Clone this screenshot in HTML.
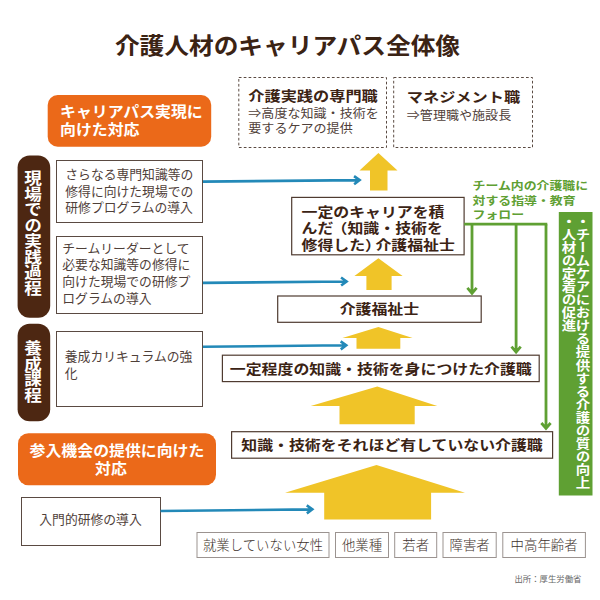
<!DOCTYPE html>
<html lang="ja">
<head>
<meta charset="utf-8">
<title>介護人材のキャリアパス全体像</title>
<style>
html,body{margin:0;padding:0;background:#fff;}
body{width:600px;height:600px;position:relative;overflow:hidden;
  font-family:"Liberation Sans","Noto Sans CJK JP",sans-serif;color:#3b2314;}
svg{position:absolute;left:0;top:0;}
.t{position:absolute;white-space:nowrap;}
.title{left:0;width:575px;text-align:center;top:29.500px;font-size:24.7px;font-weight:700;line-height:36px;color:#3b2314;transform:scaleY(0.92);transform-origin:0 0;}
.or{color:#fff;font-weight:700;font-size:15.9px;line-height:19.15px;transform:scaleY(0.94);transform-origin:0 0;}
.vp{color:#fff;font-weight:700;font-size:16px;writing-mode:vertical-rl;line-height:29.5px;letter-spacing:0.1px;transform:scale(1.1,0.98);transform-origin:0 0;}
.bx{font-size:12.8px;line-height:16.8px;color:#4f4039;}
.hd{font-size:16.2px;font-weight:700;line-height:20px;color:#3b2314;transform:scaleY(0.84);transform-origin:0 0;}
.sub{font-size:13.05px;line-height:15.64px;color:#4f4039;transform:scaleY(0.94);transform-origin:0 0;}
.lv{font-size:15.9px;font-weight:700;line-height:19.4px;color:#3b2314;transform:scaleY(0.85);transform-origin:0 0;}
.pl{margin-left:-1.7px;}
.pr{letter-spacing:-5.5px;}
.gr{font-size:12.9px;font-weight:700;line-height:17.1px;color:#5fa033;transform:scaleY(0.85);transform-origin:0 0;}
.gv{color:#fff;font-weight:700;font-size:12.6px;writing-mode:vertical-rl;line-height:12.17px;letter-spacing:0.44px;transform:scaleX(1.15);transform-origin:0 0;}
.bt{font-size:13.4px;line-height:25px;color:#40322c;text-align:center;font-weight:300;}
.src{font-size:8.4px;line-height:12px;color:#666;}
</style>
</head>
<body>
<svg width="600" height="600" viewBox="0 0 600 600">
  <!-- orange headers -->
  <rect x="47.7" y="95" width="163.5" height="51.7" rx="10" fill="#eb6919"/>
  <rect x="18" y="433.2" width="198" height="52.1" rx="10.5" fill="#eb6919"/>
  <!-- brown pills -->
  <rect x="17.6" y="155.6" width="32.6" height="162.2" rx="12" fill="#4d2712"/>
  <rect x="17.6" y="323.8" width="32.6" height="97.4" rx="12" fill="#4d2712"/>
  <!-- left boxes -->
  <g fill="#fff" stroke="#5a4a42" stroke-width="1">
    <rect x="56.5" y="160.5" width="146" height="62"/>
    <rect x="56.5" y="236.5" width="146" height="77"/>
    <rect x="56.5" y="331.5" width="146" height="75"/>
    <rect x="21.500" y="497.500" width="139" height="48"/>
  </g>
  <!-- dashed boxes -->
  <g fill="none" stroke="#5a4a42" stroke-width="1" stroke-dasharray="2.7 2.2">
    <rect x="238.8" y="77.500" width="147.7" height="70"/>
    <rect x="393.7" y="77.500" width="138.8" height="70"/>
  </g>
  <!-- yellow arrows -->
  <g fill="#f0c428">
    <polygon points="378.4,153 397.5,170.500 387.500,170.500 387.500,190.500 370,190.500 370,170.500 359.500,170.500"/>
    <polygon points="378.4,258.3 402.6,276 391.6,276 391.6,290 366.4,290 366.4,276 354.4,276"/>
    <polygon points="378.4,327 412.6,338 400.3,338 400.3,348.7 356.5,348.7 356.5,338 342.4,338"/>
    <polygon points="377.3,386.500 437.3,406 414.7,406 414.7,424.200 339.500,424.200 339.500,406 310.7,406"/>
    <polygon points="376.500,465 465,492.800 431.100,492.800 431.100,519.400 324.200,519.400 324.200,492.800 285,492.800"/>
  </g>
  <!-- level boxes -->
  <g fill="#fff" stroke="#4f3b30" stroke-width="1.2">
    <rect x="291.7" y="197.400" width="172.4" height="57.400"/>
    <rect x="277.700" y="296" width="203.500" height="26.300"/>
    <rect x="222.400" y="355.200" width="316.800" height="26.400"/>
    <rect x="231.600" y="431.700" width="321" height="26.500"/>
  </g>
  <!-- blue arrows -->
  <g fill="none" stroke="#2389b8" stroke-width="2.6" stroke-linejoin="miter">
    <path transform="rotate(-0.542 361.7 180.1)" d="M203.0,180.1 H359.2 M354.1,176.1 L359.6,180.1 L354.1,184.1"/>
    <path transform="rotate(-0.590 348.7 281.4)" d="M203.0,281.4 H346.2 M341.1,277.4 L346.6,281.4 L341.1,285.4"/>
    <path transform="rotate(-0.552 348.3 345.3)" d="M203.0,345.3 H345.8 M340.7,341.3 L346.2,345.3 L340.7,349.3"/>
    <path transform="rotate(-0.633 314.4 509.3)" d="M160.5,509.3 H311.9 M306.8,505.3 L312.3,509.3 L306.8,513.3"/>
  </g>
  <!-- green lines -->
  <g fill="none" stroke="#5fa033" stroke-width="2.8">
    <path d="M464.2,224.2 H547.3"/>
    <path d="M472,224.2 V293.0 M467.4,287.9 L472,293.3 L476.6,287.9"/>
    <path d="M516.1,224.2 V351.8 M511.5,346.7 L516.1,352.1 L520.7,346.7"/>
    <path d="M546,224.2 V428.1 M541.4,423.0 L546,428.4 L550.6,423.0"/>
  </g>
  <rect x="558.800" y="212" width="33.700" height="283.500" fill="#5fa033"/>
  <!-- bottom boxes -->
  <g fill="#fff" stroke="#9b9390" stroke-width="1">
    <rect x="197" y="532.500" width="132" height="25"/>
    <rect x="335.500" y="532.500" width="53" height="25"/>
    <rect x="394.700" y="532.500" width="42" height="25"/>
    <rect x="443" y="532.500" width="53.200" height="25"/>
    <rect x="502.800" y="532.500" width="82.600" height="25"/>
  </g>
</svg>

<div class="t title">介護人材のキャリアパス全体像</div>

<div class="t or" style="left:60px;top:102.800px;">キャリアパス実現に<br>向けた対応</div>
<div class="t or" style="left:18px;width:198px;top:441.700px;text-align:center;">参入機会の提供に向けた<br><span style="position:relative;left:-6px;">対応</span></div>

<div class="t vp" style="left:15px;width:29.500px;top:169.500px;">現場での実践過程</div>
<div class="t vp" style="left:15px;width:29.500px;top:339.600px;">養成課程</div>

<div class="t bx" style="left:65.300px;top:166.800px;">さらなる専門知識等の<br>修得に向けた現場での<br>研修プログラムの導入</div>
<div class="t bx" style="left:62.300px;top:240.600px;">チームリーダーとして<br>必要な知識等の修得に<br>向けた現場での研修プ<br>ログラムの導入</div>
<div class="t bx" style="left:64.800px;top:349.300px;">養成カリキュラムの強<br>化</div>
<div class="t bx" style="left:21px;width:139px;text-align:center;top:511.600px;">入門的研修の導入</div>

<div class="t hd" style="left:248.300px;top:87.500px;">介護実践の専門職</div>
<div class="t sub" style="left:248.300px;top:107px;">⇒高度な知識・技術を<br>要するケアの提供</div>
<div class="t hd" style="left:406.800px;top:88.500px;">マネジメント職</div>
<div class="t sub" style="left:406.800px;top:108.500px;">⇒管理職や施設長</div>

<div class="t lv" style="left:301.500px;top:204px;">一定のキャリアを積<br>んだ<span class="pl">（</span>知識・技術を<br>修得した<span class="pr">）</span>介護福祉士</div>
<div class="t lv" style="left:277.700px;width:203.500px;text-align:center;top:300.800px;">介護福祉士</div>
<div class="t lv" style="left:222.400px;width:316.800px;text-align:center;top:360.600px;">一定程度の知識・技術を身につけた介護職</div>
<div class="t lv" style="left:231.600px;width:320.900px;text-align:center;top:437.400px;">知識・技術をそれほど有していない介護職</div>

<div class="t gr" style="left:472.500px;top:178.500px;">チーム内の介護職に<br>対する指導・教育<br>フォロー</div>

<div class="t gv" style="left:555.500px;top:215.200px;width:28px;">・チームケアにおける提供する介護の質の向上<br>・人材の定着の促進</div>

<div class="t bt" style="left:197px;width:132px;top:533.200px;">就業していない女性</div>
<div class="t bt" style="left:335.500px;width:53px;top:533.200px;">他業種</div>
<div class="t bt" style="left:394.700px;width:42px;top:533.200px;">若者</div>
<div class="t bt" style="left:443px;width:53.200px;top:533.200px;">障害者</div>
<div class="t bt" style="left:502.800px;width:82.600px;top:533.200px;">中高年齢者</div>

<div class="t src" style="left:514.500px;top:572.500px;">出所：厚生労働省</div>
</body>
</html>
